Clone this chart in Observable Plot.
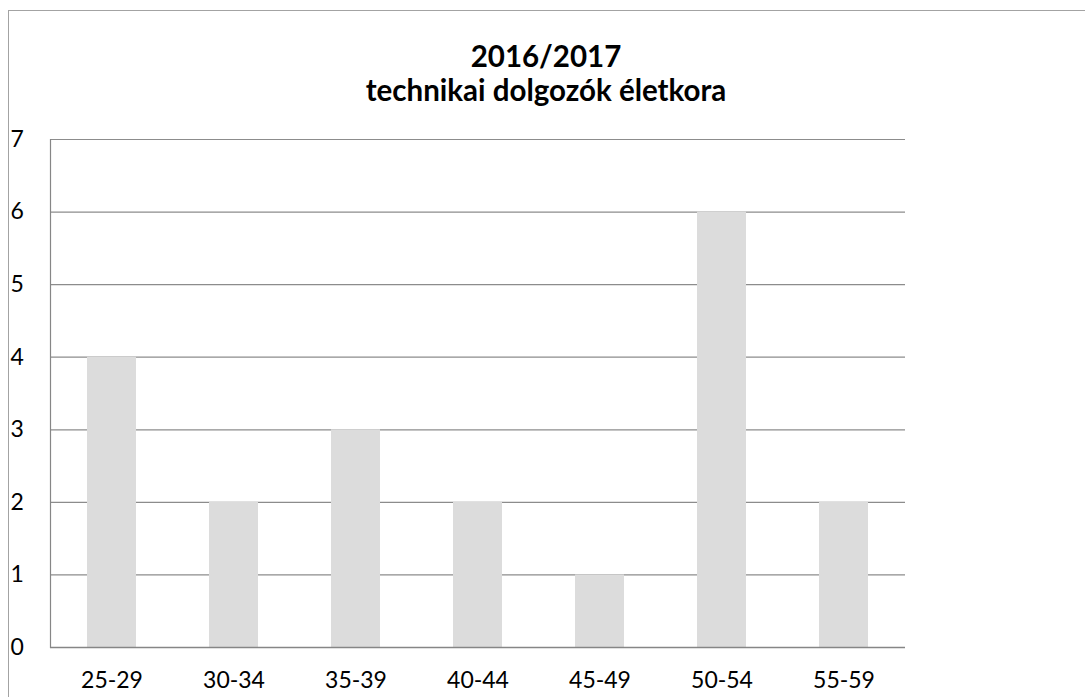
<!DOCTYPE html>
<html>
<head>
<meta charset="utf-8">
<script src="https://cdn.jsdelivr.net/npm/d3@7"></script>
<script src="https://cdn.jsdelivr.net/npm/@observablehq/plot@0.6"></script>
<style>
  html, body { margin: 0; padding: 0; background: #fff; }
  #wrap { position: relative; width: 1085px; height: 697px; overflow: hidden; font-family: Lato, "Open Sans", sans-serif; }
  #border { position: absolute; left: 8px; top: 10px; width: 1100px; height: 700px; border-left: 1.5px solid #a3a3a3; border-top: 1.5px solid #a3a3a3; }
  #title { position: absolute; left: 296px; width: 500px; top: 39px; text-align: center; font-weight: bold; font-size: 29.5px; line-height: 34px; color: #000; }
  #chart { position: absolute; left: 0; top: 0; }
</style>
</head>
<body>
<div id="wrap">
  <div id="border"></div>
  <div id="chart"></div>
  <div id="title">2016/2017<br>technikai dolgozók életkora</div>
</div>
<script>
const categories = ["25-29", "30-34", "35-39", "40-44", "45-49", "50-54", "55-59"];
const values = [4, 2, 3, 2, 1, 6, 2];
const yTicks = [0, 1, 2, 3, 4, 5, 6, 7];

const data = categories.map((c, i) => ({category: c, value: values[i]}));

const chart = Plot.plot({
  width: 1085,
  height: 697,
  marginLeft: 50,
  marginRight: 180,
  marginTop: 139,
  marginBottom: 50,
  style: {fontFamily: "Lato, 'Open Sans', sans-serif", fontSize: "23px", background: "transparent", color: "#000"},
  x: {domain: categories, paddingInner: 0.6, paddingOuter: 0.3, label: null},
  y: {domain: [0, 7], label: null},
  marks: [
    Plot.ruleY(yTicks.filter(d => d > 0), {stroke: "#8c8c8c", strokeWidth: 1.2}),
    Plot.barY(data, {x: "category", y: "value", fill: "#dcdcdc"}),
    Plot.ruleY([0], {stroke: "#868686", strokeWidth: 1.5}),
    Plot.frame({anchor: "left", stroke: "#868686", strokeWidth: 1.2}),
    Plot.axisY({ticks: yTicks, tickFormat: d3.format("d"), tickSize: 0, textAnchor: "start", dx: -31, fill: "#000", label: null}),
    Plot.axisX({tickSize: 0, tickPadding: 24, fill: "#000", label: null})
  ]
});
document.getElementById("chart").appendChild(chart);
</script>
</body>
</html>
